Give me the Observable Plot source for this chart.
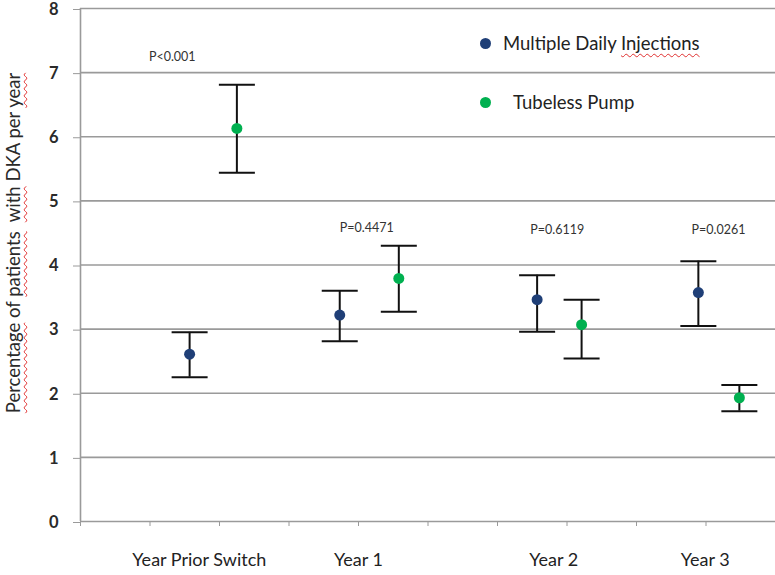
<!DOCTYPE html>
<html><head><meta charset="utf-8">
<script src="https://cdn.jsdelivr.net/npm/d3@7"></script>
<script src="https://cdn.jsdelivr.net/npm/@observablehq/plot@0.6"></script>
<style>
body{margin:0;background:#fff;font-family:Lato,"Open Sans",sans-serif;}
#wrap{position:relative;width:775px;height:575px;}
.sq{text-decoration:underline wavy #e03030;text-decoration-thickness:1px;text-underline-offset:3px;}
#ylab{position:absolute;left:-187px;top:232px;width:400px;height:22px;line-height:22px;text-align:center;transform:rotate(-90deg);font-size:18.5px;color:#2a2a2a;white-space:pre;}
.leg{position:absolute;font-size:18.5px;color:#222;white-space:pre;line-height:22px;}
.ld{position:absolute;width:11px;height:11px;border-radius:50%;}
</style></head>
<body>
<div id="wrap">
<div id="chart"></div>
<div id="ylab"><span class="sq">Percentage</span> of <span class="sq">patients</span>  <span class="sq">with</span> DKA per <span class="sq">year</span></div>
<div class="ld" style="left:480px;top:38px;background:#1f3f77"></div>
<div class="leg" style="left:503px;top:32px">Multiple Daily <span class="sq">Injections</span></div>
<div class="ld" style="left:480px;top:97px;background:#00b050"></div>
<div class="leg" style="left:513px;top:91px">Tubeless Pump</div>
</div>
<script>
const categories = ["Year Prior Switch", "Year 1", "Year 2", "Year 3"];
const catX = [1.71, 4.0, 6.81, 8.99];
const mdiX = [1.57, 3.73, 6.57, 8.89];
const mdiMean = [2.61, 3.22, 3.46, 3.57];
const mdiLo = [2.25, 2.81, 2.96, 3.05];
const mdiHi = [2.95, 3.60, 3.84, 4.06];
const tpX = [2.25, 4.58, 7.21, 9.48];
const tpMean = [6.13, 3.79, 3.07, 1.93];
const tpLo = [5.44, 3.27, 2.54, 1.72];
const tpHi = [6.81, 4.30, 3.46, 2.13];
const pLabels = ["P<0.001", "P=0.4471", "P=0.6119", "P=0.0261"];
const pX = [1.32, 4.12, 6.86, 9.18];
const pY = [7.25, 4.58, 4.54, 4.54];
const yTicks = [0, 1, 2, 3, 4, 5, 6, 7, 8];
const xTicks = [0, 1, 2, 3, 4, 5, 6, 7, 8, 9, 10];

const rows = [];
categories.forEach((c, i) => {
  rows.push({series: "MDI", x: mdiX[i], mean: mdiMean[i], lo: mdiLo[i], hi: mdiHi[i]});
  rows.push({series: "TP", x: tpX[i], mean: tpMean[i], lo: tpLo[i], hi: tpHi[i]});
});
const pRows = pLabels.map((t, i) => ({t, x: pX[i], y: pY[i]}));

const cap = {draw(ctx) { ctx.moveTo(-18, 0); ctx.lineTo(18, 0); }};

const chart = Plot.plot({
  width: 775, height: 575,
  marginLeft: 80, marginRight: 0, marginTop: 8, marginBottom: 54,
  style: {fontFamily: "Lato, 'Open Sans', sans-serif", background: "#fff", overflow: "visible"},
  x: {domain: [0, 10]},
  y: {domain: [0, 8]},
  color: {domain: ["MDI", "TP"], range: ["#1f3f77", "#00b050"]},
  marks: [
    Plot.gridY(yTicks.slice(1), {stroke: "#9a9a9a", strokeOpacity: 1, strokeWidth: 1.6}),
    Plot.axisY({ticks: yTicks, tickSize: 7, tickPadding: 15, fontSize: 16.5, stroke: "#9a9a9a", fill: "#2a2a2a", label: null, fontWeight: "bold", dy: 1}),
    Plot.axisX({ticks: xTicks, tickSize: 5, tickFormat: () => "", stroke: "#9a9a9a", label: null}),
    Plot.axisX({ticks: catX, tickSize: 0, tickPadding: 32, fontSize: 18, fill: "#222", label: null, tickFormat: d => categories[catX.indexOf(d)]}),
    Plot.ruleY([0], {stroke: "#9a9a9a", strokeWidth: 1.6}),
    Plot.ruleX([0], {stroke: "#9a9a9a", strokeWidth: 1.6}),
    Plot.ruleX(rows, {x: "x", y1: "lo", y2: "hi", stroke: "#111", strokeWidth: 2}),
    Plot.dot(rows, {x: "x", y: "hi", symbol: cap, r: 5, stroke: "#111", strokeWidth: 2, fill: "none"}),
    Plot.dot(rows, {x: "x", y: "lo", symbol: cap, r: 5, stroke: "#111", strokeWidth: 2, fill: "none"}),
    Plot.dot(rows, {x: "x", y: "mean", r: 5.5, fill: "series", stroke: null}),
    Plot.text(pRows, {x: "x", y: "y", text: "t", fontSize: 12.5, fill: "#333"})
  ]
});
document.getElementById("chart").appendChild(chart);
</script>
</body></html>
